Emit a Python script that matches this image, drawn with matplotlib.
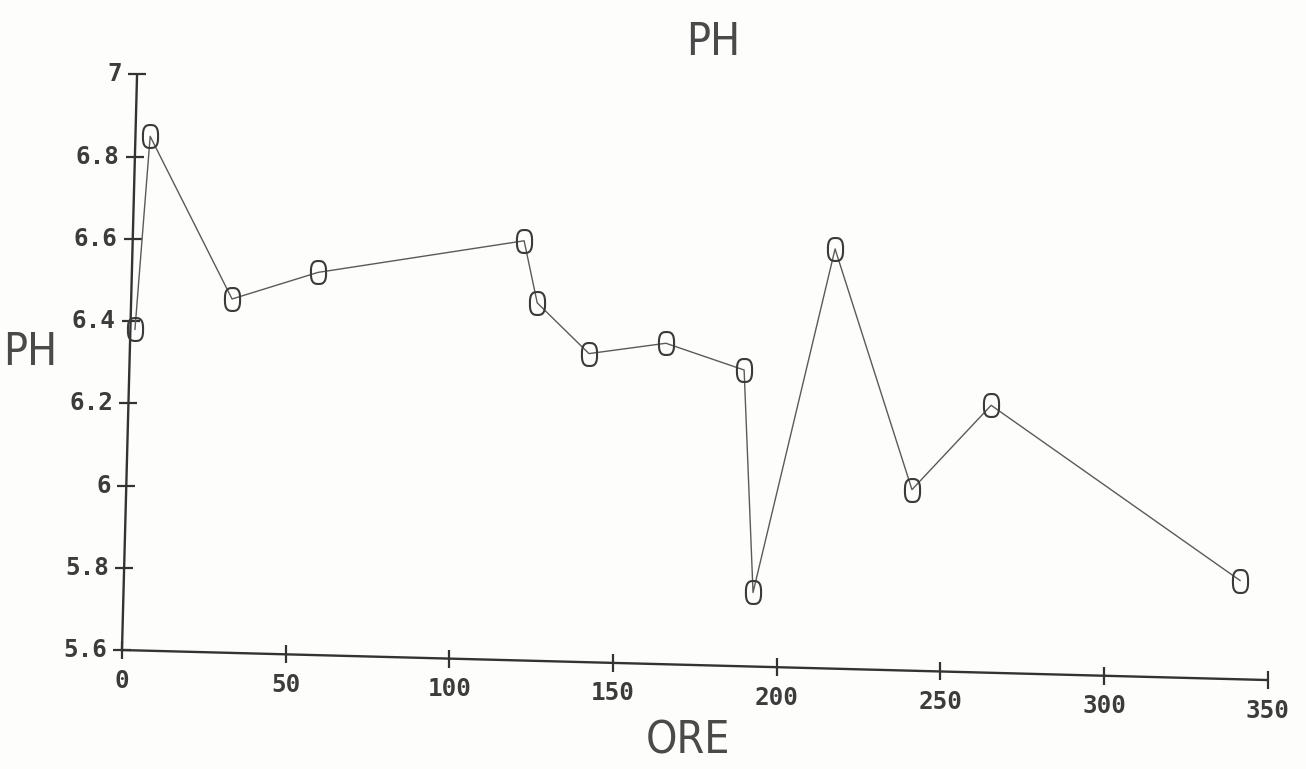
import numpy as np
import matplotlib
matplotlib.use("Agg")
import matplotlib.pyplot as plt
from matplotlib.path import Path
from matplotlib.transforms import Affine2D

# ---- data ----
ore = [1.4, 4.5, 30.8, 56.8, 119.5, 124.0, 140.2, 163.6, 187.7, 192.2, 214.5, 239.9, 263.4, 340.8]
ph = [6.38, 6.85, 6.46, 6.53, 6.62, 6.47, 6.35, 6.38, 6.32, 5.78, 6.62, 6.04, 6.25, 5.84]

x_ticks = [0, 50, 100, 150, 200, 250, 300, 350]
x_tick_labels = ["0", "50", "100", "150", "200", "250", "300", "350"]
y_ticks = [5.6, 5.8, 6.0, 6.2, 6.4, 6.6, 6.8, 7.0]
y_tick_labels = ["5.6", "5.8", "6", "6.2", "6.4", "6.6", "6.8", "7"]

title = "PH"
x_label = "ORE"
y_label = "PH"

# ---- style ----
TILT = 1.5            # the scanned sheet is slightly rotated (degrees, clockwise)
BG = "#fdfdfc"
INK = "#3c3c3c"
LABEL_FONT = dict(family=["Liberation Sans Narrow", "DejaVu Sans"], stretch="condensed",
                  fontsize=32, color="#4a4a4a")
TICK_FONT = dict(family=["DejaVu Sans Mono"], fontweight="bold", fontsize=17.5, color=INK)

# rounded ("0"-like) hollow marker
t = np.linspace(0, 2 * np.pi, 80)
c, s = np.cos(t), np.sin(t)
mk_verts = np.column_stack([0.66 * np.sign(c) * np.abs(c) ** 0.7,
                            np.sign(s) * np.abs(s) ** 0.7])
marker_path = Path(mk_verts, closed=True)

fig = plt.figure(figsize=(13.06, 7.69), dpi=100, facecolor=BG)
ax = fig.add_axes([0.0934, 0.1547, 0.8775, 0.749])
ax.set_xlim(x_ticks[0], x_ticks[-1])
ax.set_ylim(y_ticks[0], y_ticks[-1])
ax.axis("off")

x_lo, x_hi = ax.get_xlim()
y_lo, y_hi = ax.get_ylim()
ox, oy = ax.transData.transform((x_lo, y_lo))
tr = ax.transData + Affine2D().rotate_deg_around(ox, oy, -TILT)

# axes lines
ax.plot([x_lo, x_hi], [y_lo, y_lo], color="#333333", lw=1.7, transform=tr, clip_on=False)
ax.plot([x_lo, x_lo], [y_lo, y_hi], color="#333333", lw=1.7, transform=tr, clip_on=False)

# ticks (crossing the axis)
ax.plot(x_ticks, [y_lo] * len(x_ticks), ls="none", marker="|", ms=13, mew=1.6,
        color="#333333", transform=tr, clip_on=False)
ax.plot([x_lo] * len(y_ticks), y_ticks, ls="none", marker="_", ms=13, mew=1.6,
        color="#333333", transform=tr, clip_on=False)

for xv, lab in zip(x_ticks, x_tick_labels):
    ax.annotate(lab, (xv, y_lo), xycoords=tr, xytext=(0, -22), textcoords="offset points",
                ha="center", va="center", annotation_clip=False, **TICK_FONT)
for yv, lab in zip(y_ticks, y_tick_labels):
    ax.annotate(lab, (x_lo, yv), xycoords=tr, xytext=(-11, 0), textcoords="offset points",
                ha="right", va="center", annotation_clip=False, **TICK_FONT)

# data
ax.plot(ore, ph, color="#5a5a5a", lw=1.0, transform=tr, clip_on=False, zorder=3)
ax.plot(ore, ph, ls="none", marker=marker_path, ms=16.5, mfc="none", mec="#3a3a3a",
        mew=1.5, transform=tr, clip_on=False, zorder=4)

# labels
fig.text(0.546, 0.945, title, ha="center", va="center", **LABEL_FONT)
fig.text(0.023, 0.542, y_label, ha="center", va="center", **LABEL_FONT)
fig.text(0.527, 0.036, x_label, ha="center", va="center", **LABEL_FONT)

fig.savefig("out.png", dpi=100, facecolor=BG)
